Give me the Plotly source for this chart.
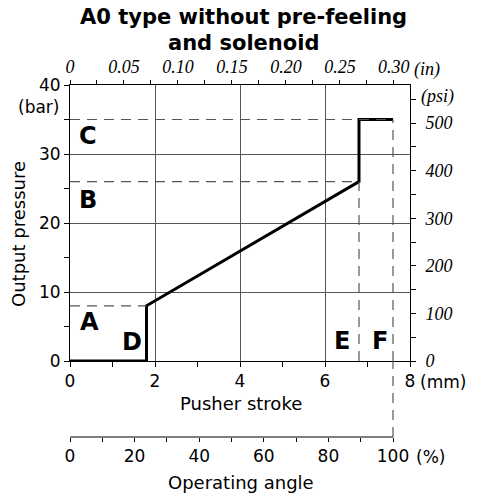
import plotly.graph_objects as go

# ---- data ----
stroke_mm = [0, 1.8, 1.8, 6.8, 6.8, 7.6]
pressure_bar = [0, 0, 8, 26, 35, 35]
x_ticks_mm = [0, 2, 4, 6, 8]
y_ticks_bar = [0, 10, 20, 30, 40]
in_ticks = [0, 0.05, 0.10, 0.15, 0.20, 0.25, 0.30]
in_labels = ["0", "0.05", "0.10", "0.15", "0.20", "0.25", "0.30"]
psi_ticks = [0, 100, 200, 300, 400, 500]
angle_ticks = [0, 20, 40, 60, 80, 100]
zone_labels = ["A", "B", "C", "D", "E", "F"]
zone_x = [0.45, 0.43, 0.43, 1.46, 6.4, 7.29]
zone_y = [5.6, 23.3, 32.6, 2.75, 2.9, 2.9]
title_lines = ["A0 type without pre-feeling", "and solenoid"]

MM_PER_IN = 25.4
PSI_PER_BAR = 14.5038
X_MAX = 8
Y_MAX = 40
FULL_STROKE = stroke_mm[-1]  # 100 % operating angle

# ---- layout geometry (pixels) ----
W, H = 477, 496
L, R, T, B = 70, 67, 85, 59
PW, PH = W - L - R, H - T - B
Y_BOTTOM_PX = 361


def px(x):
    return (x - L) / PW


def py(y):
    return (H - B - y) / PH


ydom0 = py(Y_BOTTOM_PX)

sans = "DejaVu Sans, Verdana, sans-serif"
serif = "Liberation Serif, Times New Roman, serif"
GRID = "#555555"
DASH = "#555555"

fig = go.Figure()
fig.add_trace(go.Scatter(x=stroke_mm, y=pressure_bar, mode="lines",
                         line=dict(color="black", width=3), hoverinfo="skip",
                         showlegend=False))
# helper traces so the secondary axes are drawn
fig.add_trace(go.Scatter(x=[v / MM_PER_IN for v in stroke_mm], y=pressure_bar,
                         xaxis="x2", yaxis="y", mode="lines",
                         line=dict(color="rgba(0,0,0,0)"), hoverinfo="skip", showlegend=False))
fig.add_trace(go.Scatter(x=stroke_mm, y=[v * PSI_PER_BAR for v in pressure_bar],
                         xaxis="x", yaxis="y2", mode="lines",
                         line=dict(color="rgba(0,0,0,0)"), hoverinfo="skip", showlegend=False))
fig.add_trace(go.Scatter(x=[v / FULL_STROKE * 100 for v in stroke_mm], y=pressure_bar,
                         xaxis="x3", yaxis="y", mode="lines",
                         line=dict(color="rgba(0,0,0,0)"), hoverinfo="skip", showlegend=False))

tickfont = dict(family=sans, size=17, color="black")
itfont = dict(family=serif, size=18, color="black", style="italic")

fig.update_layout(
    width=W, height=H,
    margin=dict(l=L, r=R, t=T, b=B, pad=0),
    paper_bgcolor="white", plot_bgcolor="white",
    showlegend=False,
    xaxis=dict(range=[0, X_MAX], domain=[0, 1], anchor="y",
               tickvals=x_ticks_mm, ticktext=[str(v) for v in x_ticks_mm],
               ticks="outside", ticklen=5, tickcolor="black",
               minor=dict(dtick=1, tick0=0, ticks="outside", ticklen=5, tickcolor="black", showgrid=False),
               showgrid=True, gridcolor=GRID, gridwidth=1,
               showline=True, linecolor="black", linewidth=1, mirror=True,
               zeroline=False, tickfont=tickfont),
    xaxis2=dict(range=[0, X_MAX / MM_PER_IN], overlaying="x", side="top", anchor="y",
                tickvals=in_ticks, ticktext=in_labels,
                ticks="outside", ticklen=4, tickcolor="black",
                minor=dict(dtick=0.025, tick0=0, ticks="outside", ticklen=4, tickcolor="black", showgrid=False),
                showgrid=False, showline=False, zeroline=False, tickfont=itfont),
    xaxis3=dict(range=[0, X_MAX / FULL_STROKE * 100], overlaying="x", side="bottom",
                anchor="free", position=0,
                tickvals=angle_ticks, ticktext=[str(v) for v in angle_ticks],
                ticks="outside", ticklen=4, tickcolor="black",
                minor=dict(dtick=10, tick0=0, ticks="outside", ticklen=4, tickcolor="black", showgrid=False),
                showgrid=False, showline=False, zeroline=False, tickfont=tickfont),
    yaxis=dict(range=[0, Y_MAX], domain=[ydom0, 1], anchor="x",
               tickvals=y_ticks_bar, ticktext=[str(v) for v in y_ticks_bar],
               ticks="outside", ticklen=5, tickcolor="black",
               minor=dict(dtick=5, tick0=0, ticks="outside", ticklen=5, tickcolor="black", showgrid=False),
               showgrid=True, gridcolor=GRID, gridwidth=1,
               showline=True, linecolor="black", linewidth=1, mirror=True,
               zeroline=False, tickfont=tickfont),
    yaxis2=dict(range=[0, Y_MAX * PSI_PER_BAR], overlaying="y", side="right", anchor="x",
                tickvals=psi_ticks, ticktext=[str(v) for v in psi_ticks],
                ticks="outside", ticklen=5, tickcolor="black",
                minor=dict(dtick=50, tick0=0, ticks="outside", ticklen=5, tickcolor="black", showgrid=False),
                ticklabelstandoff=6,
                showgrid=False, showline=False, zeroline=False, tickfont=itfont),
)

# dashed reference lines
dash = dict(color=DASH, width=1.2, dash="10px,7px")
p_A, p_B, p_C = pressure_bar[2], pressure_bar[3], pressure_bar[4]
x_D, x_E, x_F = stroke_mm[1], stroke_mm[3], stroke_mm[5]
for (x0, y0, x1, y1) in [(0, p_A, x_D, p_A), (0, p_B, x_E, p_B), (0, p_C, x_F, p_C),
                          (x_E, 0, x_E, p_B), (x_F, 0, x_F, p_C)]:
    fig.add_shape(type="line", xref="x", yref="y", x0=x0, y0=y0, x1=x1, y1=y1,
                  line=dash, layer="above")
fig.add_shape(type="line", xref="x", yref="paper", x0=x_F, x1=x_F, y0=0, y1=ydom0,
              line=dash, layer="above")
# operating angle axis line
fig.add_shape(type="line", xref="x3", yref="paper", x0=0, x1=100, y0=0, y1=0,
              line=dict(color="black", width=1), layer="above")

# zone letters
for t, x, y in zip(zone_labels, zone_x, zone_y):
    fig.add_annotation(text="<b>%s</b>" % t, x=x, y=y, xref="x", yref="y",
                       showarrow=False, font=dict(family=sans, size=24, color="black"))

# title, axis titles / units
titlefont = dict(family=sans, size=21, color="black")
ann = [
    ("<b>%s</b>" % title_lines[0], 243, 17, "center", titlefont, 0),
    ("<b>%s</b>" % title_lines[1], 243, 43, "center", titlefont, 0),
    ("Pusher stroke", 241, 403, "center", tickfont | dict(size=18), 0),
    ("Operating angle", 241, 482, "center", tickfont | dict(size=18), 0),
    ("Output pressure", 18, 234, "center", tickfont | dict(size=18), -90),
    ("(bar)", 38, 107, "center", tickfont, 0),
    ("(mm)", 418, 382, "left", tickfont, 0),
    ("(%)", 414, 457, "left", tickfont, 0),
    ("(in)", 412, 70, "left", itfont, 0),
    ("(psi)", 419, 97, "left", itfont, 0),
]
for text, xx, yy, anchor, f, ang in ann:
    fig.add_annotation(text=text, x=px(xx), y=py(yy), xref="paper", yref="paper",
                       xanchor=anchor, yanchor="middle", showarrow=False, font=f,
                       textangle=ang)

fig.write_html("out.html", config={"displayModeBar": False},
               post_script="document.body.style.margin='0';")
